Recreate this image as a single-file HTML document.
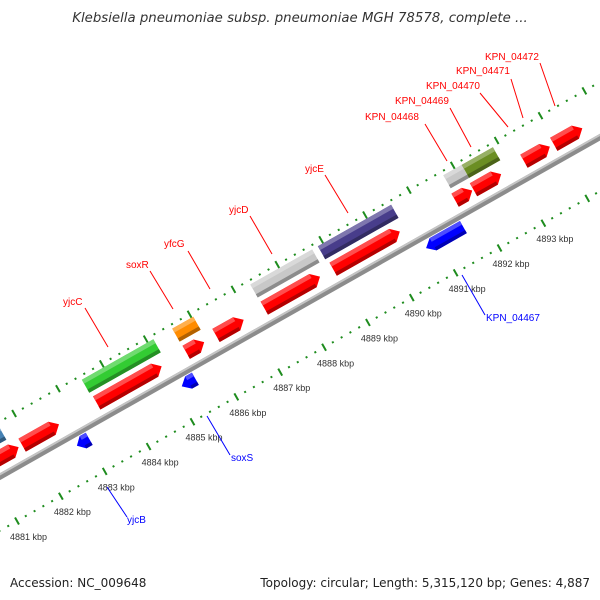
<!DOCTYPE html>
<html><head><meta charset="utf-8">
<style>
html,body{margin:0;padding:0;background:#fff;}
svg{display:block;font-family:"Liberation Sans",sans-serif;}
</style></head>
<body>
<svg id="chart" width="600" height="600" viewBox="0 0 600 600">
  <text x="300" y="22" text-anchor="middle" font-size="13.3" font-style="italic" fill="#333" style="font-family:'DejaVu Sans',sans-serif">Klebsiella pneumoniae subsp. pneumoniae MGH 78578, complete ...</text>
  <g id="track" transform="translate(17,521) rotate(-29.5)"></g>
  <g id="screen"></g>
  <g font-size="10">
    <line x1="85" y1="308" x2="108" y2="347" stroke="#f00" stroke-width="1"/>
    <text x="63" y="305" fill="#f00">yjcC</text>
    <line x1="150" y1="271" x2="173" y2="309" stroke="#f00"/>
    <text x="126" y="268" fill="#f00">soxR</text>
    <line x1="188" y1="251" x2="210" y2="289" stroke="#f00"/>
    <text x="164" y="247" fill="#f00">yfcG</text>
    <line x1="250" y1="216" x2="272" y2="254" stroke="#f00"/>
    <text x="229" y="213" fill="#f00">yjcD</text>
    <line x1="325" y1="175" x2="348" y2="213" stroke="#f00"/>
    <text x="305" y="172" fill="#f00">yjcE</text>
    <line x1="425" y1="124" x2="447" y2="161" stroke="#f00"/>
    <text x="365" y="120" fill="#f00">KPN_04468</text>
    <line x1="450" y1="108" x2="471" y2="147" stroke="#f00"/>
    <text x="395" y="104" fill="#f00">KPN_04469</text>
    <line x1="480" y1="93" x2="508" y2="127" stroke="#f00"/>
    <text x="426" y="89" fill="#f00">KPN_04470</text>
    <line x1="511" y1="79" x2="523" y2="118" stroke="#f00"/>
    <text x="456" y="74" fill="#f00">KPN_04471</text>
    <line x1="540" y1="63" x2="555" y2="106" stroke="#f00"/>
    <text x="485" y="60" fill="#f00">KPN_04472</text>
    <line x1="462" y1="275" x2="485" y2="315" stroke="#00f"/>
    <text x="486" y="321" fill="#00f">KPN_04467</text>
    <line x1="207" y1="416" x2="230" y2="455" stroke="#00f"/>
    <text x="231" y="461" fill="#00f">soxS</text>
    <line x1="107" y1="487" x2="127" y2="517" stroke="#00f"/>
    <text x="127" y="523" fill="#00f">yjcB</text>
  </g>
  <text x="10" y="587" font-size="12" fill="#222" style="font-family:'DejaVu Sans',sans-serif">Accession: NC_009648</text>
  <text x="590" y="587" font-size="12" fill="#222" text-anchor="end" style="font-family:'DejaVu Sans',sans-serif">Topology: circular; Length: 5,315,120 bp; Genes: 4,887</text>
</svg>
<script>
// data (kbp)
const fwdStarts = [4880.8, 4881.83, 4883.53, 4885.57, 4886.25, 4887.35, 4888.92, 4891.70, 4892.12, 4893.27, 4893.95];
const fwdEnds   = [4881.75, 4882.67, 4885.01, 4885.98, 4886.88, 4888.62, 4890.44, 4892.09, 4892.75, 4893.86, 4894.60];
const otherStarts = [4880.2, 4883.50, 4885.56, 4887.34, 4888.88, 4891.74, 4892.16];
const otherEnds   = [4881.61, 4885.13, 4886.04, 4888.75, 4890.55, 4892.16, 4892.87];
const otherColors = ["#4682b4", "#33cc33", "#ff8c00", "#c8c8c8", "#483d8b", "#c8c8c8", "#6b8e23"];
const revStarts = [4882.77, 4885.16, 4890.73];
const revEnds   = [4883.05, 4885.47, 4891.58];
const tickLabels = [4881, 4882, 4883, 4884, 4885, 4886, 4887, 4888, 4889, 4890, 4891, 4892, 4893];

const K0 = 4881, PX = 50.4, ANG = 29.5 * Math.PI / 180;
const ux = k => (k - K0) * PX;       // along-axis coordinate
const vy = v => -v;                  // perpendicular (up) coordinate
const scr = (k, v) => { const x = ux(k), y = vy(v);
  return [17 + x * Math.cos(ANG) + y * Math.sin(ANG), 521 - x * Math.sin(ANG) + y * Math.cos(ANG)]; };

const NS = "http://www.w3.org/2000/svg";
const track = document.getElementById("track");
const screen = document.getElementById("screen");
function mk(tag, attrs, parent) { const e = document.createElementNS(NS, tag);
  for (const a in attrs) e.setAttribute(a, attrs[a]); parent.appendChild(e); return e; }

// axis bar
const ax = mk("rect", {x: ux(4879), y: vy(50), width: ux(4897) - ux(4879), height: 6, fill: "#8c8c8c"}, track);


mk("rect", {x: ux(4879), y: vy(50), width: ux(4897) - ux(4879), height: 2, fill: "#c4c4c4"}, track);

// tick lines
function tickLine(v, name) {
  for (let i = -20; i <= 90; i++) {
    const k = 4881 + i * 0.2;
    const major = Math.abs(Math.round(k) - k) < 1e-6;
    let e;
    if (major) e = mk("rect", {x: ux(k) - 1, y: vy(v) - 4, width: 2, height: 8, fill: "#1e8c1e"}, track);
    else e = mk("rect", {x: ux(k) - 1, y: vy(v) - 1, width: 2, height: 2, fill: "#1e8c1e"}, track);
    
    
  }
}
tickLine(0, 'lower-tick');
tickLine(95, 'upper-tick');

tickLabels.forEach(k => {
  const p = scr(k, 0);
  const t = mk("text", {x: p[0] - 7, y: p[1] + 19, "font-size": 9, fill: "#333"}, screen);
  t.textContent = k + " kbp";
  
  
});

function shade(hex, f) {
  const n = parseInt(hex.slice(1), 16);
  let r = n >> 16, g = (n >> 8) & 255, b = n & 255;
  const c = x => Math.max(0, Math.min(255, Math.round(f > 1 ? x + (255 - x) * (f - 1) : x * f)));
  return "rgb(" + c(r) + "," + c(g) + "," + c(b) + ")";
}
function gene(s, e, v0, h, col, dir, name) {
  const g = mk("g", {}, track);
  
  
  const x0 = ux(s), x1 = ux(e), yTop = vy(v0 + h), yBot = vy(v0);
  const tip = Math.min(8, (x1 - x0) / 2);
  let pts;
  if (dir > 0) pts = [[x0, yTop], [x1 - tip, yTop], [x1, (yTop + yBot) / 2], [x1 - tip, yBot], [x0, yBot]];
  else if (dir < 0) pts = [[x0 + tip, yTop], [x1, yTop], [x1, yBot], [x0 + tip, yBot], [x0, (yTop + yBot) / 2]];
  else pts = [[x0, yTop], [x1, yTop], [x1, yBot], [x0, yBot]];
  mk("polygon", {points: pts.map(p => p.join(",")).join(" "), fill: col}, g);
  const w = Math.max(0, x1 - x0 - (dir !== 0 ? tip : 0));
  const xs = x0 + (dir < 0 ? tip : 0);
  mk("rect", {x: xs, y: yTop, width: w, height: h * 0.3, fill: shade(col, 1.3)}, g);
  mk("rect", {x: xs, y: yBot - h * 0.25, width: w, height: h * 0.25, fill: shade(col, 0.7)}, g);
}
fwdStarts.forEach((s, i) => gene(s, fwdEnds[i], 56, 15, "#ff0000", 1, 'forward-gene'));
otherStarts.forEach((s, i) => gene(s, otherEnds[i], 76, 15, otherColors[i], 0, 'feature-box'));
revStarts.forEach((s, i) => gene(s, revEnds[i], 29, 14, "#0000ff", -1, 'reverse-gene'));
</script>
</body></html>
